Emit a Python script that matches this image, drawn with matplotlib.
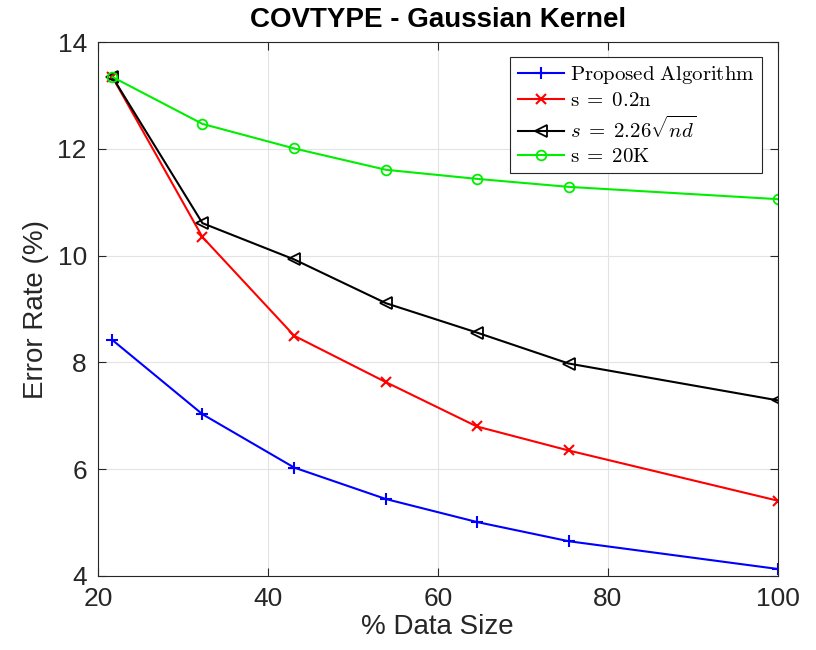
import numpy as np
import matplotlib
matplotlib.use("Agg")
import matplotlib.pyplot as plt

plt.rcParams['font.family'] = ['Liberation Sans', 'DejaVu Sans']
plt.rcParams['mathtext.fontset'] = 'cm'

data_size = [21.7, 32.3, 43.1, 53.9, 64.6, 75.4, 100]
proposed = [8.42, 7.03, 6.03, 5.44, 5.01, 4.65, 4.13]
s_02n = [13.35, 10.35, 8.50, 7.63, 6.80, 6.35, 5.41]
s_sqrt = [13.35, 10.61, 9.93, 9.11, 8.56, 7.98, 7.29]
s_20k = [13.35, 12.47, 12.01, 11.61, 11.44, 11.29, 11.06]

labels = [r'$\mathrm{Proposed\ Algorithm}$',
          r'$\mathrm{s}\;=\;\mathrm{0.2n}$',
          r'$s\;=\;2.26\sqrt{nd}$',
          r'$\mathrm{s}\;=\;\mathrm{20K}$']

fig = plt.figure(figsize=(8.16, 6.5), dpi=100)
ax = fig.add_axes([0.120, 0.114, 0.833, 0.821])

ax.plot(data_size, proposed, color='#0000ff', marker='+', ms=9, mew=1.5, lw=1.5, label=labels[0])
ax.plot(data_size, s_02n, color='#ff0000', marker='x', ms=7, mew=1.5, lw=1.5, label=labels[1])
ax.plot(data_size, s_sqrt, color='black', marker='<', ms=9, mfc='none', mew=1.3, lw=1.5, label=labels[2])
ax.plot(data_size, s_20k, color='#00ee00', marker='o', ms=7, mfc='none', mew=1.3, lw=1.5, label=labels[3])

ax.set_xlim(20, 100)
ax.set_ylim(4, 14)
ax.set_xticks([20, 40, 60, 80, 100])
ax.set_yticks([4, 6, 8, 10, 12, 14])
ax.grid(True, color='#e3e3e3', lw=0.8)
ax.set_axisbelow(True)
ax.tick_params(direction='in', top=True, right=True, labelsize=19, length=6,
               colors='#262626', pad=8)
for sp in ax.spines.values():
    sp.set_color('#262626')

ax.set_xlabel('% Data Size', fontsize=20, color='#262626', labelpad=2)
ax.set_ylabel('Error Rate (%)', fontsize=20, color='#262626', labelpad=6)
ax.set_title('COVTYPE - Gaussian Kernel', fontsize=20, fontweight='bold', pad=11)

leg = ax.legend(loc='upper right', fontsize=15, fancybox=False, framealpha=1,
                edgecolor='#262626', borderpad=0.35, handlelength=2.2,
                labelspacing=0.25, handletextpad=0.3, bbox_to_anchor=(0.992, 0.992))
leg.get_frame().set_linewidth(0.8)

fig.savefig('out.png', dpi=100)
